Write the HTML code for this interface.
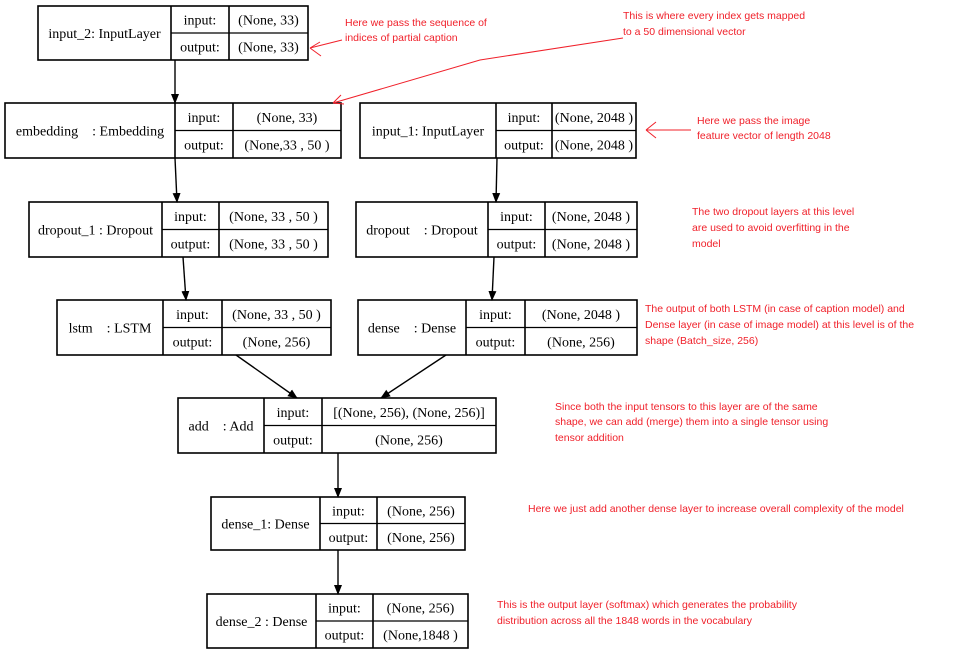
<!DOCTYPE html>
<html><head><meta charset="utf-8"><style>
html,body{margin:0;padding:0;background:#fff;}
svg{display:block;}
rect{fill:#fff;stroke:#000;stroke-width:1.6;}
.l{stroke:#000;stroke-width:1.6;}
.h{stroke:#000;stroke-width:1.2;}
text.t{font-family:"Liberation Serif",serif;font-size:14px;fill:#000;text-anchor:middle;}
text.r{font-family:"Liberation Sans",sans-serif;font-size:10.5px;fill:#f0202a;}
</style></head><body>
<svg width="963" height="655" viewBox="0 0 963 655" xmlns="http://www.w3.org/2000/svg">
<defs><marker id="a" markerWidth="10" markerHeight="10" refX="9" refY="5" orient="auto" markerUnits="userSpaceOnUse"><path d="M0,1 L10,5 L0,9 z" fill="#000"/></marker></defs>

<rect x="38" y="6" width="270" height="54"/><line class="l" x1="171" y1="6" x2="171" y2="60"/><line class="l" x1="229" y1="6" x2="229" y2="60"/><line class="h" x1="171" y1="33" x2="308" y2="33"/>
<text class="t" x="104.5" y="38">input_2: InputLayer</text><text class="t" x="200" y="24.5">input:</text><text class="t" x="200" y="51.5">output:</text><text class="t" x="268.5" y="24.5">(None, 33)</text><text class="t" x="268.5" y="51.5">(None, 33)</text>

<rect x="5" y="103" width="336" height="55"/><line class="l" x1="175" y1="103" x2="175" y2="158"/><line class="l" x1="233" y1="103" x2="233" y2="158"/><line class="h" x1="175" y1="130.5" x2="341" y2="130.5"/>
<text class="t" x="90" y="135.5" xml:space="preserve">embedding    : Embedding</text><text class="t" x="204" y="121.75">input:</text><text class="t" x="204" y="149.25">output:</text><text class="t" x="287" y="121.75">(None, 33)</text><text class="t" x="287" y="149.25">(None,33 , 50 )</text>

<rect x="360" y="103" width="276" height="55"/><line class="l" x1="496" y1="103" x2="496" y2="158"/><line class="l" x1="552" y1="103" x2="552" y2="158"/><line class="h" x1="496" y1="130.5" x2="636" y2="130.5"/>
<text class="t" x="428" y="135.5">input_1: InputLayer</text><text class="t" x="524" y="121.75">input:</text><text class="t" x="524" y="149.25">output:</text><text class="t" x="594" y="121.75">(None, 2048 )</text><text class="t" x="594" y="149.25">(None, 2048 )</text>

<rect x="29" y="202" width="299" height="55"/><line class="l" x1="162" y1="202" x2="162" y2="257"/><line class="l" x1="219" y1="202" x2="219" y2="257"/><line class="h" x1="162" y1="229.5" x2="328" y2="229.5"/>
<text class="t" x="95.5" y="234.5">dropout_1 : Dropout</text><text class="t" x="190.5" y="220.75">input:</text><text class="t" x="190.5" y="248.25">output:</text><text class="t" x="273.5" y="220.75">(None, 33 , 50  )</text><text class="t" x="273.5" y="248.25">(None, 33 , 50  )</text>

<rect x="356" y="202" width="281" height="55"/><line class="l" x1="488" y1="202" x2="488" y2="257"/><line class="l" x1="545" y1="202" x2="545" y2="257"/><line class="h" x1="488" y1="229.5" x2="637" y2="229.5"/>
<text class="t" x="422" y="234.5" xml:space="preserve">dropout    : Dropout</text><text class="t" x="516.5" y="220.75">input:</text><text class="t" x="516.5" y="248.25">output:</text><text class="t" x="591" y="220.75">(None, 2048 )</text><text class="t" x="591" y="248.25">(None, 2048 )</text>

<rect x="57" y="300" width="274" height="55"/><line class="l" x1="163" y1="300" x2="163" y2="355"/><line class="l" x1="222" y1="300" x2="222" y2="355"/><line class="h" x1="163" y1="327.5" x2="331" y2="327.5"/>
<text class="t" x="110" y="332.5" xml:space="preserve">lstm    : LSTM</text><text class="t" x="192.5" y="318.75">input:</text><text class="t" x="192.5" y="346.25">output:</text><text class="t" x="276.5" y="318.75">(None, 33 , 50  )</text><text class="t" x="276.5" y="346.25">(None, 256)</text>

<rect x="358" y="300" width="279" height="55"/><line class="l" x1="466" y1="300" x2="466" y2="355"/><line class="l" x1="525" y1="300" x2="525" y2="355"/><line class="h" x1="466" y1="327.5" x2="637" y2="327.5"/>
<text class="t" x="412" y="332.5" xml:space="preserve">dense    : Dense</text><text class="t" x="495.5" y="318.75">input:</text><text class="t" x="495.5" y="346.25">output:</text><text class="t" x="581" y="318.75">(None, 2048 )</text><text class="t" x="581" y="346.25">(None, 256)</text>

<rect x="178" y="398" width="318" height="55"/><line class="l" x1="264" y1="398" x2="264" y2="453"/><line class="l" x1="322" y1="398" x2="322" y2="453"/><line class="h" x1="264" y1="425.5" x2="496" y2="425.5"/>
<text class="t" x="221" y="430.5" xml:space="preserve">add    : Add</text><text class="t" x="293" y="416.75">input:</text><text class="t" x="293" y="444.25">output:</text><text class="t" x="409" y="416.75">[(None, 256), (None, 256)]</text><text class="t" x="409" y="444.25">(None, 256)</text>

<rect x="211" y="497" width="254" height="53"/><line class="l" x1="320" y1="497" x2="320" y2="550"/><line class="l" x1="377" y1="497" x2="377" y2="550"/><line class="h" x1="320" y1="523.5" x2="465" y2="523.5"/>
<text class="t" x="265.5" y="528.5">dense_1: Dense</text><text class="t" x="348.5" y="515.25">input:</text><text class="t" x="348.5" y="541.75">output:</text><text class="t" x="421" y="515.25">(None, 256)</text><text class="t" x="421" y="541.75">(None, 256)</text>

<rect x="207" y="594" width="261" height="54"/><line class="l" x1="316" y1="594" x2="316" y2="648"/><line class="l" x1="373" y1="594" x2="373" y2="648"/><line class="h" x1="316" y1="621" x2="468" y2="621"/>
<text class="t" x="261.5" y="626">dense_2 : Dense</text><text class="t" x="344.5" y="612.5">input:</text><text class="t" x="344.5" y="639.5">output:</text><text class="t" x="420.5" y="612.5">(None, 256)</text><text class="t" x="420.5" y="639.5">(None,1848 )</text>

<g stroke="#000" stroke-width="1.4" marker-end="url(#a)">
<line x1="175" y1="60" x2="175" y2="103"/>
<line x1="175" y1="158" x2="177" y2="202"/>
<line x1="497" y1="158" x2="496" y2="202"/>
<line x1="183" y1="257" x2="186" y2="300"/>
<line x1="494" y1="257" x2="492" y2="300"/>
<line x1="236" y1="355" x2="297" y2="398"/>
<line x1="446" y1="355" x2="381" y2="398"/>
<line x1="338" y1="453" x2="338" y2="497"/>
<line x1="338" y1="550" x2="338" y2="594"/>
</g>
<g stroke="#f0202a" stroke-width="1" fill="none">
<path d="M342,40 L310,48 M310,48 L320,42 M310,48 L321,56"/>
<path d="M623,38 L480,60 L333,103 M333,103 L341,95 M333,103 L344,104"/>
<path d="M691,130 L646,130 M646,130 L656,122 M646,130 L656,138"/>
</g>
<text class="r" x="345" y="26">Here we pass the sequence of</text>
<text class="r" x="345" y="41">indices of partial caption</text>
<text class="r" x="623" y="19">This is where every index gets mapped</text>
<text class="r" x="623" y="35">to a  50  dimensional vector</text>
<text class="r" x="697" y="124">Here we pass the image</text>
<text class="r" x="697" y="139">feature vector of length 2048</text>
<text class="r" x="692" y="215">The two dropout layers at this level</text>
<text class="r" x="692" y="231">are used to avoid overfitting in the</text>
<text class="r" x="692" y="247">model</text>
<text class="r" x="645" y="312">The output of both LSTM (in case of caption model) and</text>
<text class="r" x="645" y="328">Dense layer (in case of image model) at this level is of the</text>
<text class="r" x="645" y="344">shape (Batch_size, 256)</text>
<text class="r" x="555" y="410">Since both the input tensors to this layer are of the same</text>
<text class="r" x="555" y="425">shape, we can add (merge) them into a single tensor using</text>
<text class="r" x="555" y="441">tensor addition</text>
<text class="r" x="528" y="512">Here we just add another dense layer to increase overall complexity of the model</text>
<text class="r" x="497" y="608">This is the output layer (softmax) which generates the probability</text>
<text class="r" x="497" y="624">distribution across all the 1848 words in the vocabulary</text>
</svg>
</body></html>
